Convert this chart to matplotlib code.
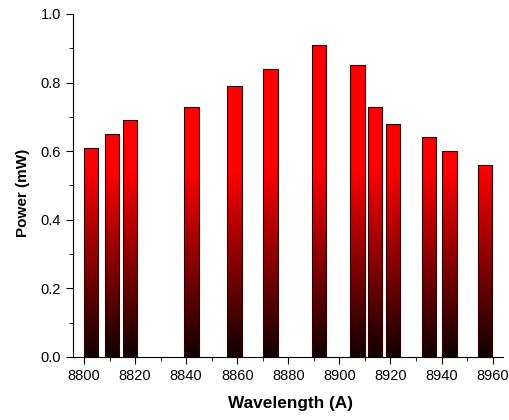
import numpy as np
import matplotlib.pyplot as plt
from matplotlib.colors import LinearSegmentedColormap

plt.rcParams['font.family'] = ['Liberation Sans', 'DejaVu Sans']

wavelength = [8802.7, 8811, 8818, 8842, 8859, 8873, 8892, 8907, 8914, 8921, 8935, 8943, 8957]
power = [0.61, 0.65, 0.69, 0.73, 0.79, 0.84, 0.91, 0.85, 0.73, 0.68, 0.64, 0.60, 0.56]

cmap = LinearSegmentedColormap.from_list("blk_red", [(0.0, "#100000"), (0.55, "#ff0000"), (1.0, "#ff0000")])

fig = plt.figure(figsize=(5.09, 4.2), dpi=100)
ax = fig.add_axes([0.1434, 0.15, 0.8446, 0.8167])

bars = ax.bar(wavelength, power, width=5.7, color="none", edgecolor="#300000", linewidth=0.8, zorder=3)

# black-to-red fill, clipped to each bar
grad = np.linspace(0, 1, 256).reshape(-1, 1)
for b in bars:
    im = ax.imshow(grad, cmap=cmap, aspect="auto", origin="lower",
                   extent=[b.get_x(), b.get_x() + b.get_width(), 0, 1.0], zorder=2)
    im.set_clip_path(b)

ax.set_xlim(8795.7, 8964)
ax.set_ylim(0, 1.0)
ax.set_xticks(np.arange(8800, 8961, 20))
ax.set_xticks(np.arange(8810, 8961, 20), minor=True)
ax.set_yticks(np.arange(0, 1.01, 0.2))
ax.set_yticks(np.arange(0.1, 1.0, 0.2), minor=True)
ax.yaxis.set_major_formatter(plt.FormatStrFormatter("%.1f"))
ax.tick_params(which="both", direction="out", labelsize=10.5)
ax.tick_params(which="major", length=5)
ax.tick_params(which="minor", length=3)
ax.tick_params(axis="x", pad=4)
ax.spines["top"].set_visible(False)
ax.spines["right"].set_visible(False)

ax.set_xlabel("Wavelength (A)", fontsize=12.4, fontweight="bold")
ax.set_ylabel("Power (mW)", fontsize=11, fontweight="bold")
ax.xaxis.set_label_coords(0.505, -0.115)
ax.yaxis.set_label_coords(-0.1, 0.478)

fig.savefig("out.png", dpi=100)
